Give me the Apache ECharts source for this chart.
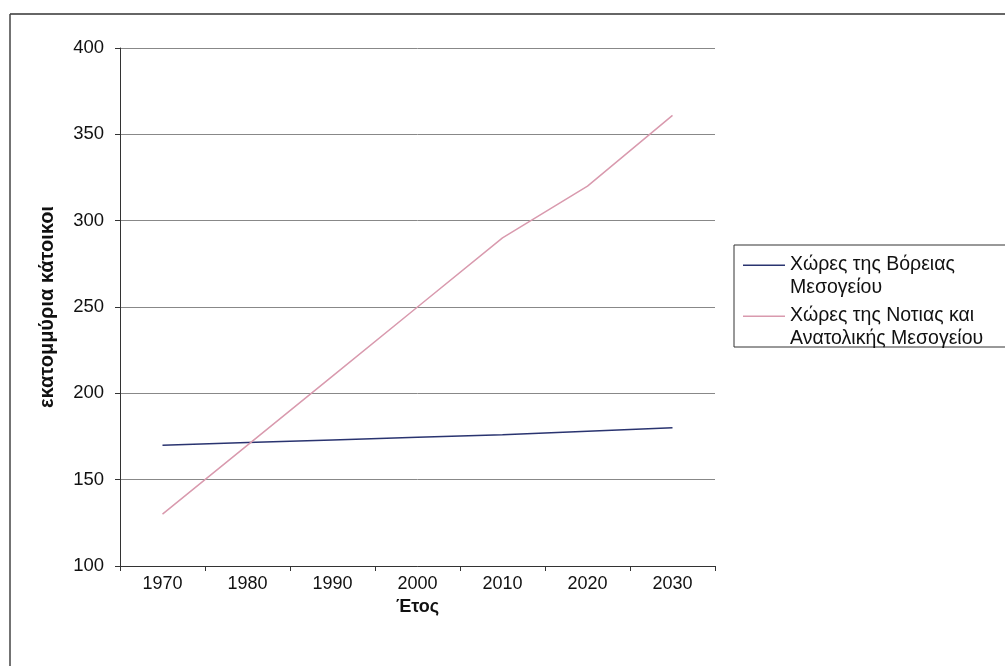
<!DOCTYPE html>
<html>
<head>
<meta charset="utf-8">
<script src="https://cdn.jsdelivr.net/npm/echarts@6/dist/echarts.min.js"></script>
<style>
html,body{margin:0;padding:0;background:#fff;}
#chart{width:1005px;height:666px;}
</style>
</head>
<body>
<div id="chart"></div>
<script>
var years = ['1970','1980','1990','2000','2010','2020','2030'];
var northNames = 'Χώρες της Βόρειας\nΜεσογείου';
var southNames = 'Χώρες της Νοτιας και\nΑνατολικής Μεσογείου';
var northValues = [170, 171.5, 173, 174.5, 176, 178, 180];
var southValues = [130, 170, 210, 250, 290, 320, 361];
var yTicks = [100, 150, 200, 250, 300, 350, 400];

var FONT = '"Liberation Sans", Arial, sans-serif';
var chart = echarts.init(document.getElementById('chart'), null, {renderer:'canvas'});
var legendText = {fontFamily: FONT, fontSize: 19.5, color: '#111', lineHeight: 23};
var lineIcon = 'path://M0,0H42V1.5H0Z M0,22.99H0.01V23H0Z';
chart.setOption({
  backgroundColor: '#fff',
  animation: false,
  graphic: [
    {type:'line', shape:{x1:10,y1:14,x2:1005,y2:14}, style:{stroke:'#333', lineWidth:1.5}},
    {type:'line', shape:{x1:10,y1:14,x2:10,y2:666}, style:{stroke:'#444', lineWidth:1.5}},
    {type:'rect', shape:{x:734,y:245,width:300,height:102}, style:{fill:'none', stroke:'#333', lineWidth:1}}
  ],
  grid: {left:120, right:290, top:48, bottom:100},
  legend: [
    {data:[northNames], left:743, top:253, padding:0, icon:lineIcon, itemWidth:42, itemHeight:23,
     textStyle: legendText, selectedMode:false},
    {data:[southNames], left:743, top:304, padding:0, icon:lineIcon, itemWidth:42, itemHeight:23,
     textStyle: legendText, selectedMode:false}
  ],
  xAxis: {
    type: 'category', data: years, boundaryGap: true,
    name: 'Έτος', nameLocation: 'middle', nameGap: 30,
    nameTextStyle: {fontFamily: FONT, fontSize: 18, fontWeight: 'bold', color:'#111'},
    axisLine: {lineStyle:{color:'#333', width:1}},
    axisTick: {show:true, inside:false, length:5, alignWithLabel:false, lineStyle:{color:'#333'}},
    axisLabel: {fontFamily: FONT, fontSize: 18, color:'#111', margin:9},
    splitLine: {show:false}
  },
  yAxis: {
    type: 'value', min: yTicks[0], max: yTicks[yTicks.length-1], interval: 50,
    name: 'εκατομμύρια κάτοικοι', nameLocation: 'middle', nameGap: 63, nameRotate: 90,
    nameTextStyle: {fontFamily: FONT, fontSize: 20, fontWeight: 'bold', color:'#111'},
    axisLine: {show:true, lineStyle:{color:'#333', width:1}},
    axisTick: {show:true, inside:false, length:5, lineStyle:{color:'#333'}},
    axisLabel: {fontFamily: FONT, fontSize: 18.5, color:'#111', margin:16},
    splitLine: {show:true, lineStyle:{color:'#888', width:1}}
  },
  series: [
    {name: northNames, type:'line', data: northValues, symbol:'none',
     lineStyle:{color:'#2a3470', width:1.5}, itemStyle:{color:'#2a3470'}},
    {name: southNames, type:'line', data: southValues, symbol:'none',
     lineStyle:{color:'#d99aae', width:1.5}, itemStyle:{color:'#d99aae'}}
  ]
});
</script>
</body>
</html>
